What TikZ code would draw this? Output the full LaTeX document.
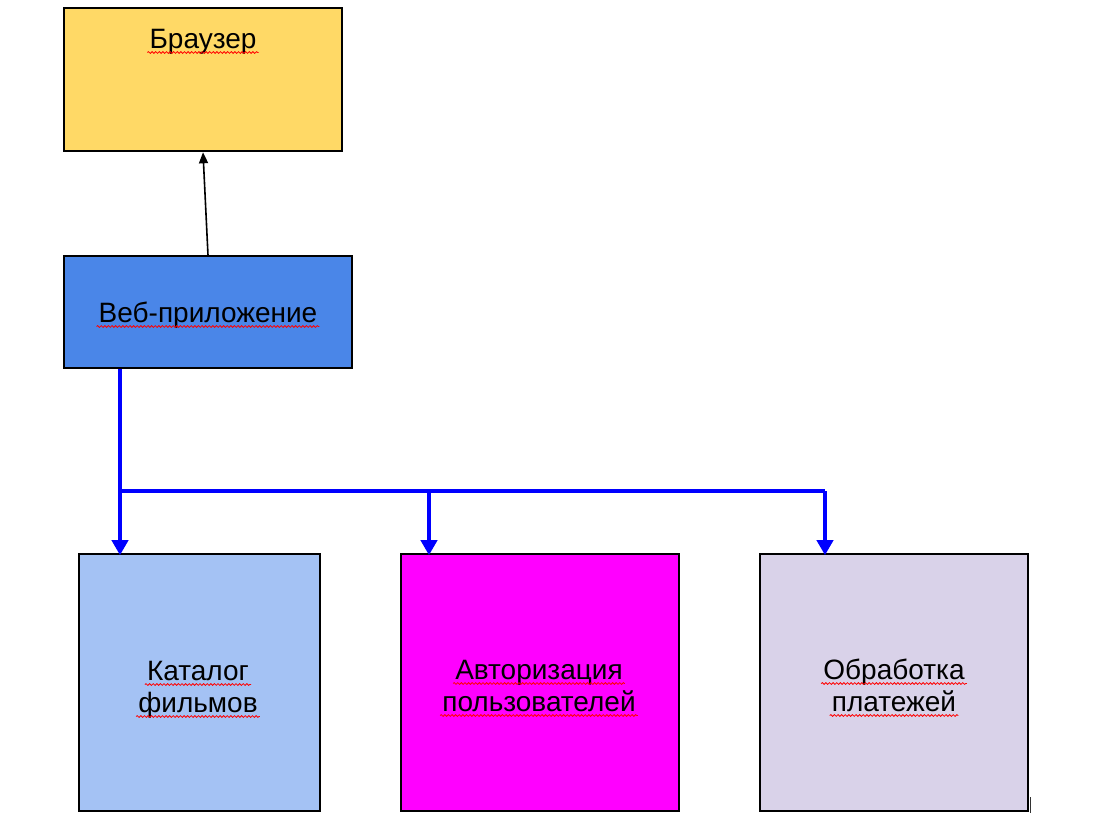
\documentclass[tikz,border=0pt]{standalone}
\usepackage{fontspec}
\setmainfont{Liberation Sans}
\usetikzlibrary{arrows.meta,decorations.pathmorphing}
\definecolor{cbrow}{RGB}{255,217,102}
\definecolor{cweb}{RGB}{74,134,232}
\definecolor{ckat}{RGB}{164,194,244}
\definecolor{cauth}{RGB}{255,0,255}
\definecolor{cpay}{RGB}{217,210,233}
\definecolor{cblue}{RGB}{0,0,255}
\tikzset{
  box/.style={draw=black, line width=1.6pt, inner sep=0pt, rectangle},
  lbl/.style={anchor=base, inner sep=0pt, font=\fontsize{28pt}{32pt}\selectfont},
  wavy/.style={draw=red, line width=0.8pt, decorate, decoration={snake, amplitude=0.9pt, segment length=3.6pt}},
  bluearrow/.style={draw=cblue, line width=4pt, line join=miter, -{Triangle[width=16pt,length=15pt]}},
  blueline/.style={draw=cblue, line width=4pt, line join=miter},
  blackarrow/.style={draw=black, line width=1.6pt, -{Triangle[width=9pt,length=11pt]}}
}
\begin{document}
\begin{tikzpicture}[x=1pt,y=-1pt]
\useasboundingbox[fill=white] (0,0) rectangle (1103,839);
% boxes
\node[box, fill=cbrow, minimum width=278pt, minimum height=143pt] (brow) at (203,79.5) {};
\node[box, fill=cweb, minimum width=288pt, minimum height=112pt] (web) at (208,312) {};
\node[box, fill=ckat, minimum width=241pt, minimum height=257pt] (kat) at (199.5,682.5) {};
\node[box, fill=cauth, minimum width=278pt, minimum height=257pt] (auth) at (540,682.5) {};
\node[box, fill=cpay, minimum width=268pt, minimum height=257pt] (pay) at (894,682.5) {};
% texts
\node[lbl] (tbrow) at (203,48) {Браузер};
\node[lbl] (tweb) at (208,322) {Веб-приложение};
\node[lbl] (tkat1) at (198,680) {Каталог};
\node[lbl] (tkat2) at (198,712) {фильмов};
\node[lbl] (tauth1) at (539,679) {Авторизация};
\node[lbl] (tauth2) at (539,711) {пользователей};
\node[lbl] (tpay1) at (894,679) {Обработка};
\node[lbl] (tpay2) at (894,711) {платежей};
% spell-check underlines
\foreach \n in {tbrow,tweb,tkat1,tkat2,tauth1,tauth2,tpay1,tpay2}{
  \draw[wavy] ([shift={(-2pt,-4.5pt)}]\n.base west) -- ([shift={(2pt,-4.5pt)}]\n.base east);
}
% connectors
\coordinate (wb) at (208,256);
\draw[blackarrow] (web.north -| wb) -- ([xshift=-5pt,yshift=-0.5pt]brow.south -| wb);
\coordinate (j1) at (120,491);
\coordinate (j2) at (429,491);
\coordinate (j3) at (825,491);
\draw[bluearrow] (web.south -| j1) -- ([yshift=-2pt]kat.north -| j1);
\draw[blueline] (j1) -- (j3);
\draw[bluearrow] (j3) -- ([yshift=-2pt]pay.north -| j3);
\draw[bluearrow] (j2) -- ([yshift=-2pt]auth.north -| j2);
% cursor mark
\coordinate (cur) at (1030,797);
\draw[black!80, line width=0.9pt] (cur) -- ++(0,16);
\end{tikzpicture}
\end{document}
